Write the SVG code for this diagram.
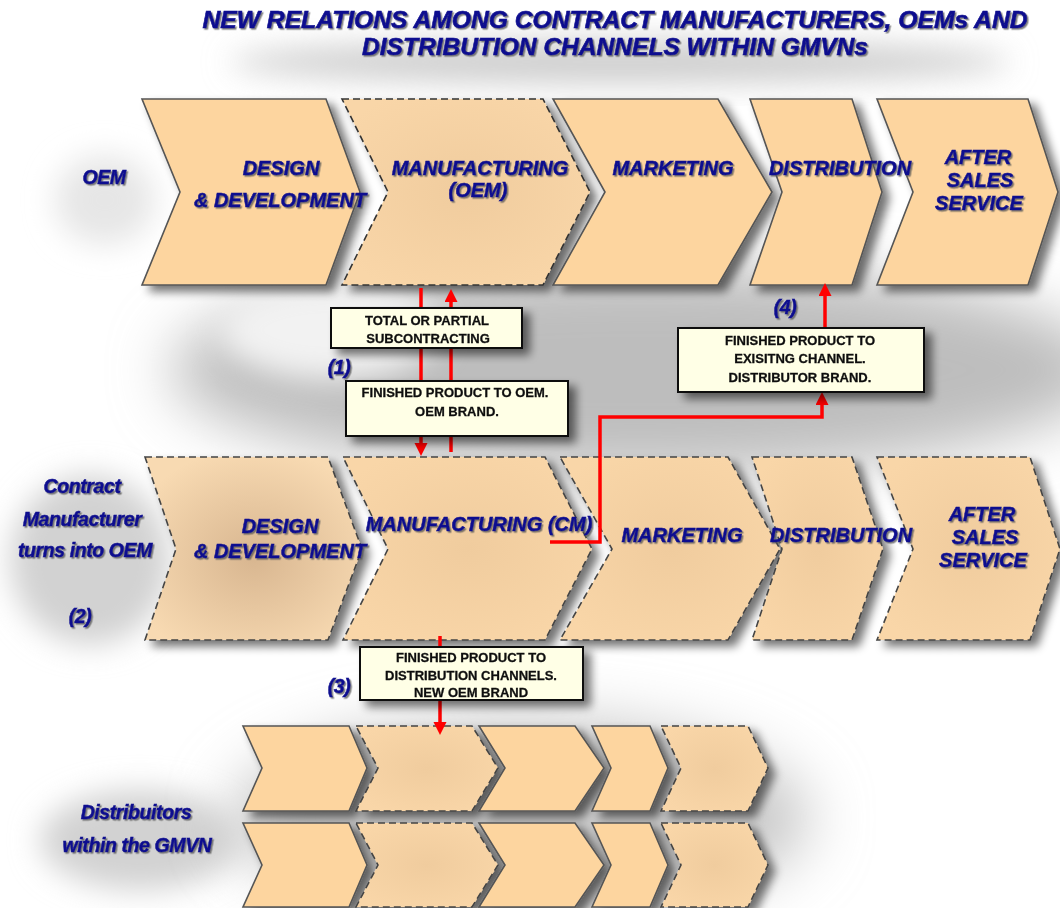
<svg xmlns="http://www.w3.org/2000/svg" width="1060" height="908" viewBox="0 0 1060 908">
<defs>
<style>
.lbl{font-family:"Liberation Sans",Arial,sans-serif;font-weight:bold;font-style:italic;fill:#0B0B8F;stroke:#0B0B8F;stroke-width:0.5;font-size:20px;text-anchor:middle}
.side{font-family:"Liberation Sans",Arial,sans-serif;font-weight:bold;font-style:italic;fill:#0B0B8F;stroke:#0B0B8F;stroke-width:0.5;font-size:19.5px;text-anchor:middle;letter-spacing:-0.4px}
.ttl{font-family:"Liberation Sans",Arial,sans-serif;font-weight:bold;font-style:italic;fill:#0B0B8F;stroke:#0B0B8F;stroke-width:0.6;font-size:23px;text-anchor:middle}
.bt{font-family:"Liberation Sans",Arial,sans-serif;font-weight:bold;font-size:13px;fill:#111;stroke:#111;stroke-width:0.3;text-anchor:middle}
.ch{fill:#FDD59F;stroke:#555;stroke-width:1.6}
.chm{fill:url(#gMid);stroke:#333;stroke-width:1.6;stroke-dasharray:7 4}
.chd{fill:url(#gMid);stroke:#444;stroke-width:1.6;stroke-dasharray:7 4}
.bx{fill:#FFFFE6;stroke:#111;stroke-width:2}
.conn{fill:none;stroke:#FF0000;stroke-width:3.5}
</style>
<radialGradient id="gMid" cx="0.5" cy="0.5" r="0.6">
<stop offset="0" stop-color="#F0CC9E"/>
<stop offset="1" stop-color="#F9D6A8"/>
</radialGradient>
<radialGradient id="gBrown" cx="0.5" cy="0.55" r="0.6">
<stop offset="0" stop-color="#D8B690"/>
<stop offset="1" stop-color="#F8DAB2"/>
</radialGradient>
<filter id="sh" x="-20%" y="-20%" width="150%" height="160%">
<feGaussianBlur in="SourceAlpha" stdDeviation="5"/>
<feOffset dx="7" dy="6"/>
<feComponentTransfer><feFuncA type="linear" slope="0.55"/></feComponentTransfer>
<feMerge><feMergeNode/><feMergeNode in="SourceGraphic"/></feMerge>
</filter>
<filter id="ts" x="-10%" y="-30%" width="130%" height="160%">
<feDropShadow dx="1.5" dy="1.5" stdDeviation="0.6" flood-color="#555" flood-opacity="0.75"/>
</filter>
<filter id="bl30" x="-50%" y="-50%" width="200%" height="200%"><feGaussianBlur stdDeviation="30"/></filter>
<filter id="bl15" x="-50%" y="-50%" width="200%" height="200%"><feGaussianBlur stdDeviation="15"/></filter>
<marker id="ah" markerUnits="userSpaceOnUse" markerWidth="14" markerHeight="14" refX="2" refY="6.5" orient="auto">
<path d="M0,0 L13,6.5 L0,13 z" fill="#FF0000"/>
</marker>
</defs>
<rect width="1060" height="908" fill="#FFFFFF"/>
<g id="background">
<ellipse cx="640" cy="370" rx="470" ry="105" fill="#BDBDBD" filter="url(#bl30)"/>
<ellipse cx="330" cy="330" rx="110" ry="50" fill="#F2F2F2" filter="url(#bl15)"/>
<ellipse cx="620" cy="62" rx="390" ry="22" fill="#CFCFCF" filter="url(#bl15)"/>
<ellipse cx="105" cy="200" rx="50" ry="45" fill="#E6E6E6" filter="url(#bl15)"/>
<ellipse cx="90" cy="560" rx="80" ry="85" fill="#D2D2D2" filter="url(#bl15)"/>
<ellipse cx="140" cy="840" rx="100" ry="50" fill="#D2D2D2" filter="url(#bl15)"/>
<ellipse cx="520" cy="818" rx="290" ry="100" fill="#C8C8C8" filter="url(#bl30)"/>
</g>
<g id="title" filter="url(#ts)">
<text class="ttl" x="615" y="28" textLength="825" lengthAdjust="spacingAndGlyphs">NEW RELATIONS AMONG CONTRACT MANUFACTURERS, OEMs AND</text>
<text class="ttl" x="615" y="55" textLength="506" lengthAdjust="spacingAndGlyphs">DISTRIBUTION CHANNELS WITHIN GMVNs</text>
</g>
<g id="row-oem" filter="url(#sh)">
<path id="oem-design" class="ch" d="M142,99 H326 L360,192 L326,285 H142 L180,192 Z"/>
<path id="oem-manufacturing" class="chm" d="M342,99 H543 L590,192 L543,285 H342 L388,192 Z"/>
<path id="oem-marketing" class="ch" d="M553,99 H718 L772,192 L718,285 H553 L605,192 Z"/>
<path id="oem-distribution" class="ch" d="M750,99 H852 L882,192 L852,285 H750 L782,192 Z"/>
<path id="oem-aftersales" class="ch" d="M877,99 H1028 L1058,192 L1028,285 H877 L913,192 Z"/>
</g>
<g id="row-cm" filter="url(#sh)">
<path id="cm-design" class="chd" style="fill:url(#gBrown)" d="M145,457 H328 L362,549 L328,640 H145 L176,549 Z"/>
<path id="cm-manufacturing" class="chd" d="M343,457 H545 L592,549 L545,640 H343 L388,549 Z"/>
<path id="cm-marketing" class="chd" d="M560,457 H728 L780,549 L728,640 H560 L612,549 Z"/>
<path id="cm-distribution" class="chd" d="M752,457 H852 L883,549 L852,640 H752 L782,549 Z"/>
<path id="cm-aftersales" class="chd" d="M877,457 H1030 L1060,549 L1030,640 H877 L913,549 Z"/>
</g>
<g id="row-dist-a" filter="url(#sh)">
<path class="ch" d="M243,726 H349 L367,768 L349,811 H243 L262,768 Z"/>
<path class="chd" d="M356,726 H472 L498,768 L472,811 H356 L378,768 Z"/>
<path class="ch" d="M479,726 H575 L604,768 L575,811 H479 L505,768 Z"/>
<path class="ch" d="M592,726 H650 L668,768 L650,811 H592 L611,768 Z"/>
<path class="chd" d="M661,726 H748 L768,768 L748,811 H661 L681,768 Z"/>
</g>
<g id="row-dist-b" filter="url(#sh)">
<path class="ch" d="M243,823 H349 L367,865 L349,907 H243 L262,865 Z"/>
<path class="chd" d="M356,823 H472 L498,865 L472,907 H356 L378,865 Z"/>
<path class="ch" d="M479,823 H575 L604,865 L575,907 H479 L505,865 Z"/>
<path class="ch" d="M592,823 H650 L668,865 L650,907 H592 L611,865 Z"/>
<path class="chd" d="M661,823 H748 L768,865 L748,907 H661 L681,865 Z"/>
</g>
<g id="connectors">
<path class="conn" d="M421,288 V445" marker-end="url(#ah)"/>
<path class="conn" d="M451,452 V300" marker-end="url(#ah)"/>
<path class="conn" d="M550,542 H600 V417 H822 V403" marker-end="url(#ah)"/>
<path class="conn" d="M825,328 V294" marker-end="url(#ah)"/>
<path class="conn" d="M440,636 V724" marker-end="url(#ah)"/>
</g>
<g id="box-subcontracting" filter="url(#sh)">
<rect class="bx" x="331" y="308" width="191" height="40"/>
<text class="bt" x="427" y="325">TOTAL OR PARTIAL</text>
<text class="bt" x="428" y="343">SUBCONTRACTING</text>
</g>
<g id="box-finished-oem" filter="url(#sh)">
<rect class="bx" x="346" y="381" width="222" height="55"/>
<text class="bt" x="455" y="397">FINISHED PRODUCT TO OEM.</text>
<text class="bt" x="457" y="416">OEM BRAND.</text>
</g>
<g id="box-existing-channel" filter="url(#sh)">
<rect class="bx" x="678" y="328" width="246" height="64"/>
<text class="bt" x="800" y="345">FINISHED PRODUCT TO</text>
<text class="bt" x="800" y="363">EXISITNG CHANNEL.</text>
<text class="bt" x="800" y="382">DISTRIBUTOR BRAND.</text>
</g>
<g id="box-distribution-channels" filter="url(#sh)">
<rect class="bx" x="360" y="647" width="223" height="53"/>
<text class="bt" x="471" y="662">FINISHED  PRODUCT TO</text>
<text class="bt" x="471" y="680">DISTRIBUTION CHANNELS.</text>
<text class="bt" x="471" y="697">NEW OEM BRAND</text>
</g>
<g id="labels" filter="url(#ts)">
<text class="side" x="104" y="184">OEM</text>
<text class="lbl" x="281" y="175">DESIGN</text>
<text class="lbl" x="280" y="207">&amp; DEVELOPMENT</text>
<text class="lbl" x="480" y="175">MANUFACTURING</text>
<text class="lbl" x="478" y="197">(OEM)</text>
<text class="lbl" x="673" y="175">MARKETING</text>
<text class="lbl" x="840" y="175">DISTRIBUTION</text>
<text class="lbl" x="978" y="164">AFTER</text>
<text class="lbl" x="980" y="187">SALES</text>
<text class="lbl" x="979" y="210">SERVICE</text>
<text class="side" x="82" y="493">Contract</text>
<text class="side" x="82" y="526">Manufacturer</text>
<text class="side" x="85" y="557">turns into OEM</text>
<text class="side" x="80" y="623">(2)</text>
<text class="lbl" x="280" y="533">DESIGN</text>
<text class="lbl" x="280" y="558">&amp; DEVELOPMENT</text>
<text class="lbl" x="479" y="531">MANUFACTURING (CM)</text>
<text class="lbl" x="682" y="542">MARKETING</text>
<text class="lbl" x="841" y="542">DISTRIBUTION</text>
<text class="lbl" x="982" y="521">AFTER</text>
<text class="lbl" x="985" y="544">SALES</text>
<text class="lbl" x="983" y="567">SERVICE</text>
<text class="side" x="339" y="374">(1)</text>
<text class="side" x="339" y="693">(3)</text>
<text class="side" x="785" y="314">(4)</text>
<text class="side" x="136" y="819">Distribuitors</text>
<text class="side" x="137" y="852">within the GMVN</text>
</g>
</svg>
